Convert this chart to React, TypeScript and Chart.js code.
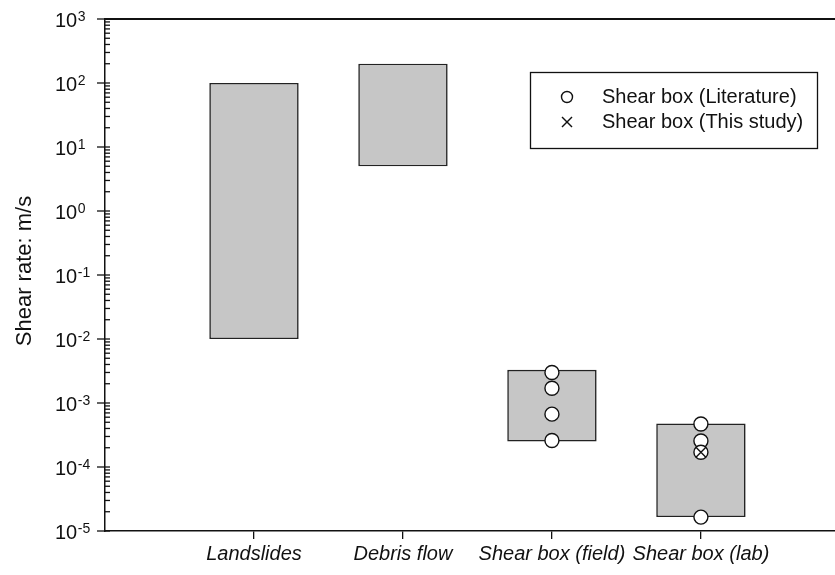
import React, { useEffect, useRef } from 'react';
import { Chart, registerables } from 'chart.js';

Chart.register(...registerables);

const categories = ['Landslides', 'Debris flow', 'Shear box (field)', 'Shear box (lab)'];
const categoryPositions = [1, 2, 3, 4];
const rangeLow = [0.01, 5, 2.5e-4, 1.65e-5];
const rangeHigh = [100, 200, 3.3e-3, 4.8e-4];
const literatureField = [3.0e-3, 1.7e-3, 6.7e-4, 2.6e-4];
const literatureLab = [4.7e-4, 2.55e-4, 1.7e-4, 1.65e-5];
const thisStudyLab = [1.7e-4];
const yExponents = [-5, -4, -3, -2, -1, 0, 1, 2, 3];
const legendLabels = ['Shear box (Literature)', 'Shear box (This study)'];
const yTitle = 'Shear rate: m/s';

const FONT = '"Liberation Sans", Arial, Helvetica, sans-serif';
const INK = '#111';

const decorPlugin = {
  id: 'decor',
  afterDraw(chart: any) {
    const { ctx, chartArea, scales } = chart;
    const ys = scales.y;
    const { left, top } = chartArea;
    const right = chart.width;
    const line = (x1: number, y1: number, x2: number, y2: number) => {
      ctx.beginPath();
      ctx.moveTo(x1, y1);
      ctx.lineTo(x2, y2);
      ctx.stroke();
    };
    ctx.save();
    ctx.strokeStyle = INK;
    ctx.lineWidth = 1.8;
    line(left - 1, top, right, top);

    ctx.lineWidth = 1.3;
    yExponents.forEach((e) => {
      const py = ys.getPixelForValue(Math.pow(10, e));
      line(left - 8, py, left + 5, py);
    });
    for (let i = 0; i < yExponents.length - 1; i++) {
      const e = yExponents[i];
      for (let m = 2; m <= 9; m++) {
        const py = ys.getPixelForValue(m * Math.pow(10, e));
        line(left, py, left + 5, py);
      }
    }

    ctx.fillStyle = INK;
    ctx.textAlign = 'left';
    ctx.textBaseline = 'alphabetic';
    const xl = 55;
    yExponents.forEach((e) => {
      const py = ys.getPixelForValue(Math.pow(10, e));
      const expText = String(e);
      ctx.font = `20px ${FONT}`;
      const wBase = ctx.measureText('10').width;
      ctx.fillText('10', xl, py + 7.5);
      ctx.font = `14px ${FONT}`;
      ctx.fillText(expText, xl + wBase + 0.5, py + 2);
    });

    ctx.save();
    ctx.translate(25, (chartArea.top + chartArea.bottom) / 2 - 4);
    ctx.rotate(-Math.PI / 2);
    ctx.textAlign = 'center';
    ctx.textBaseline = 'middle';
    ctx.font = `22px ${FONT}`;
    ctx.fillText(yTitle, 0, 0);
    ctx.restore();

    ctx.lineWidth = 1.3;
    ctx.strokeRect(530.5, 72.5, 287, 76);
    ctx.font = `20px ${FONT}`;
    ctx.textBaseline = 'middle';
    ctx.textAlign = 'left';
    ctx.lineWidth = 1.4;
    ctx.beginPath();
    ctx.arc(567, 97, 5.5, 0, Math.PI * 2);
    ctx.fillStyle = '#fff';
    ctx.fill();
    ctx.stroke();
    ctx.fillStyle = INK;
    ctx.fillText(legendLabels[0], 602, 97);
    line(562, 117, 572, 127);
    line(562, 127, 572, 117);
    ctx.fillText(legendLabels[1], 602, 122);
    ctx.restore();
  },
};

export default function App() {
  const ref = useRef<HTMLCanvasElement | null>(null);
  useEffect(() => {
    if (!ref.current) return;
    const chart = new Chart(ref.current, {
      type: 'bar',
      data: {
        datasets: [
          {
            type: 'scatter',
            label: legendLabels[1],
            data: thisStudyLab.map((v) => ({ x: categoryPositions[3], y: v })),
            pointStyle: 'crossRot',
            pointRadius: 7,
            borderColor: INK,
            borderWidth: 1.4,
            backgroundColor: 'rgba(0,0,0,0)',
            order: 1,
          } as any,
          {
            type: 'scatter',
            label: legendLabels[0],
            data: [
              ...literatureField.map((v) => ({ x: categoryPositions[2], y: v })),
              ...literatureLab.map((v) => ({ x: categoryPositions[3], y: v })),
            ],
            pointStyle: 'circle',
            pointRadius: 7,
            backgroundColor: '#fff',
            borderColor: INK,
            borderWidth: 1.4,
            order: 2,
          } as any,
          {
            type: 'bar',
            label: 'Range',
            data: categoryPositions.map((x, i) => ({ x, y: [rangeLow[i], rangeHigh[i]] })),
            backgroundColor: '#c6c6c6',
            borderColor: '#222',
            borderWidth: 1.6,
            borderSkipped: false,
            barPercentage: 0.6,
            categoryPercentage: 1,
            order: 3,
          } as any,
        ],
      },
      options: {
        animation: false,
        responsive: false,
        maintainAspectRatio: false,
        layout: { autoPadding: false, padding: { top: 19, left: 0, right: 0, bottom: 0 } },
        plugins: { legend: { display: false }, tooltip: { enabled: false } },
        scales: {
          x: {
            type: 'linear',
            offset: false,
            min: 0,
            max: 4.9,
            afterBuildTicks: (s: any) => {
              s.ticks = categoryPositions.map((v) => ({ value: v }));
            },
            afterFit: (s: any) => {
              s.height = 44;
              s.paddingRight = 0;
              s.paddingLeft = 0;
            },
            ticks: {
              callback: (v: any) => {
                const i = categoryPositions.indexOf(Number(v));
                return i >= 0 ? categories[i] : '';
              },
              font: { family: FONT, size: 20, style: 'italic' },
              color: INK,
              padding: 3,
              maxRotation: 0,
              autoSkip: false,
            },
            grid: {
              display: true,
              offset: false,
              drawOnChartArea: false,
              drawTicks: true,
              tickLength: 8,
              color: INK,
              lineWidth: 1.3,
            },
            border: { display: true, color: INK, width: 1.5 },
          },
          y: {
            type: 'logarithmic',
            min: 1e-5,
            max: 1e3,
            afterFit: (s: any) => {
              s.width = 105;
            },
            ticks: { display: false },
            grid: { display: false },
            border: { display: true, color: INK, width: 1.5 },
          },
        },
      } as any,
      plugins: [decorPlugin],
    });
    return () => chart.destroy();
  }, []);
  return (
    <div style={{ position: 'fixed', left: 0, top: 0, width: 835, height: 575, background: '#fff' }}>
      <canvas ref={ref} width={835} height={575} style={{ width: 835, height: 575, display: 'block' }} />
    </div>
  );
}
